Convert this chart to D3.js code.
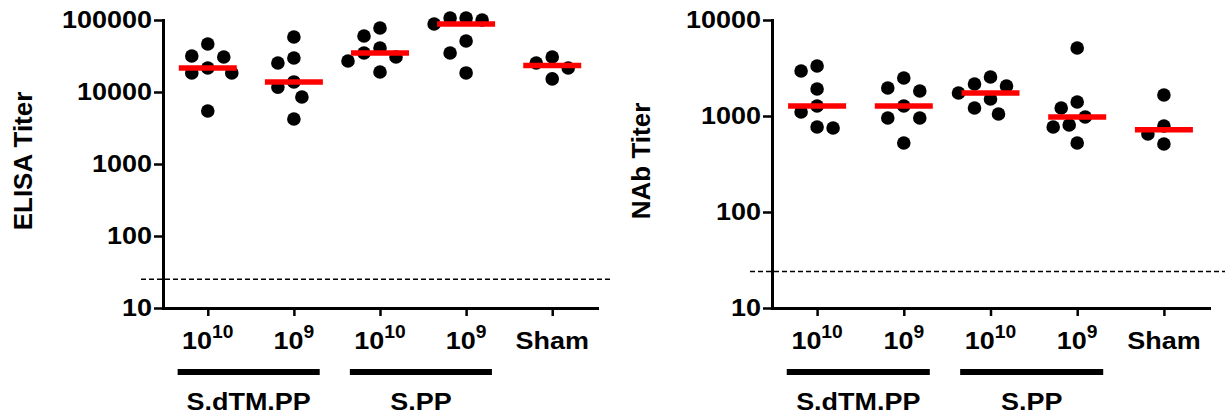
<!DOCTYPE html>
<html>
<head>
<meta charset="utf-8">
<script src="https://cdn.jsdelivr.net/npm/d3@7"></script>
<style>
  body { margin: 0; background: #fff; }
  svg text { font-family: "Liberation Sans", Arial, sans-serif; font-weight: bold; fill: #000; }
</style>
</head>
<body>
<svg id="chart" width="1225" height="417"></svg>
<script>
// groups along the x axis
const groupKeys = ["dtm1e10", "dtm1e9", "pp1e10", "pp1e9", "sham"];
const tickBase = ["10", "10", "10", "10", "Sham"];
const tickExp = ["10", "9", "10", "9", ""];

// vaccine brackets under the axis
const vaccineNames = ["S.dTM.PP", "S.PP"];
const vaccineFirst = ["dtm1e10", "pp1e10"];
const vaccineLast = ["dtm1e9", "pp1e9"];

// ELISA panel
const elisaTicks = [10, 100, 1000, 10000, 100000];
const elisaLimit = 25;
const elisaValues = [
  [31600, 46400, 30600, 21500, 18400, 18400, 5450],
  [58000, 29700, 25300, 13800, 11700, 8530, 4220],
  [77400, 60000, 40800, 34800, 30600, 27000, 18950],
  [106600, 88000, 106600, 100000, 51000, 34800, 18400],
  [30600, 25300, 21500, 15200]
];

// NAb panel
const nabTicks = [10, 100, 1000, 10000];
const nabLimit = 24;
const nabValues = [
  [3320, 2940, 1910, 1270, 1100, 767, 750],
  [2490, 1960, 1820, 1270, 953, 953, 523],
  [2550, 2155, 2054, 1738, 1503, 1212, 1049],
  [5110, 1400, 1212, 977, 806, 767, 523],
  [1655, 787, 649, 511]
];

const svg = d3.select("#chart");
const yTop = 20, yBottom = 308;
const sx = 1.1;   // labels in the original are a bit wider than Arial

// simple column scatter: push points sideways until they stop overlapping
function dodge(vals, cx, y) {
  const placed = [];
  const out = new Array(vals.length);
  const order = vals.map((v, i) => i).sort((a, b) => vals[b] - vals[a]);
  order.forEach(i => {
    const py = y(vals[i]);
    for (let k = 0; k < 30; k++) {
      const off = k === 0 ? 0 : (k % 2 ? -1 : 1) * Math.ceil(k / 2) * 8;
      const px = cx + off;
      if (placed.every(p => Math.hypot(p[0] - px, p[1] - py) >= 16)) {
        placed.push([px, py]);
        out[i] = [px, py];
        break;
      }
    }
  });
  return out;
}

// text that is stretched horizontally around its anchor point
function wideText(g, x, y) {
  return g.append("text")
    .attr("transform", `translate(${x},${y}) scale(${sx},1)`)
    .attr("text-anchor", "middle")
    .attr("font-size", 24.5);
}

function drawPanel(opt) {
  const g = svg.append("g");

  const y = d3.scaleLog()
    .domain([opt.ticks[0], opt.ticks[opt.ticks.length - 1]])
    .range([yBottom, yTop]);
  const x = d3.scalePoint()
    .domain(groupKeys)
    .range([opt.left, opt.right])
    .padding(0.52);
  const step = x.step();

  // detection limit
  g.append("line")
    .attr("x1", opt.left - 22).attr("x2", opt.right + 16)
    .attr("y1", y(opt.limit)).attr("y2", y(opt.limit))
    .attr("stroke", "#000")
    .attr("stroke-width", 1.5)
    .attr("stroke-dasharray", "5,3");

  // axes
  const yAxis = d3.axisLeft(y)
    .tickValues(opt.ticks)
    .tickFormat(d3.format("d"))
    .tickSize(9).tickSizeOuter(0).tickPadding(2);
  const yG = g.append("g")
    .attr("transform", `translate(${opt.left},0)`)
    .call(yAxis);

  const xAxis = d3.axisBottom(x)
    .tickSize(8).tickSizeOuter(0)
    .tickFormat("");
  const xG = g.append("g")
    .attr("transform", `translate(0,${yBottom})`)
    .call(xAxis);

  [yG, xG].forEach(a => {
    a.select(".domain").attr("stroke", "#000").attr("stroke-width", 3).attr("stroke-linecap", "square");
    a.selectAll(".tick line").attr("stroke", "#000").attr("stroke-width", 2.5);
  });
  yG.selectAll(".tick text")
    .attr("font-size", 24.5)
    .attr("font-family", null)
    .attr("x", -11 / sx)
    .attr("transform", `scale(${sx},1)`);

  // x tick labels with superscripts
  groupKeys.forEach((k, i) => {
    const t = wideText(g, x(k), 349);
    t.append("tspan").text(tickBase[i]);
    t.append("tspan")
      .attr("font-size", 17.5)
      .attr("dy", -11)
      .text(tickExp[i]);
  });

  // vaccine brackets
  vaccineNames.forEach((name, i) => {
    const x1 = x(vaccineFirst[i]) - 0.35 * step;
    const x2 = x(vaccineLast[i]) + 0.3 * step;
    g.append("line")
      .attr("x1", x1).attr("x2", x2)
      .attr("y1", 372).attr("y2", 372)
      .attr("stroke", "#000")
      .attr("stroke-width", 6);
    wideText(g, (x1 + x2) / 2, 410).text(name);
  });

  // y title
  g.append("text")
    .attr("transform", `translate(${opt.titleX},161) rotate(-90)`)
    .attr("text-anchor", "middle")
    .attr("font-size", 26)
    .text(opt.title);

  // points
  opt.values.forEach((vals, gi) => {
    const cx = x(groupKeys[gi]);
    const pts = dodge(vals, cx, y);
    g.append("g")
      .selectAll("circle")
      .data(pts)
      .join("circle")
      .attr("cx", d => d[0])
      .attr("cy", d => d[1])
      .attr("r", 6.8)
      .attr("fill", "#000");

    const med = d3.median(vals);
    g.append("line")
      .attr("x1", cx - 29).attr("x2", cx + 29)
      .attr("y1", y(med)).attr("y2", y(med))
      .attr("stroke", "#ff0000")
      .attr("stroke-width", 5.5);
  });
}

drawPanel({
  left: 163, right: 597, titleX: 32,
  title: "ELISA Titer",
  ticks: elisaTicks, limit: elisaLimit, values: elisaValues
});

drawPanel({
  left: 772, right: 1209, titleX: 650,
  title: "NAb Titer",
  ticks: nabTicks, limit: nabLimit, values: nabValues
});
</script>
</body>
</html>
